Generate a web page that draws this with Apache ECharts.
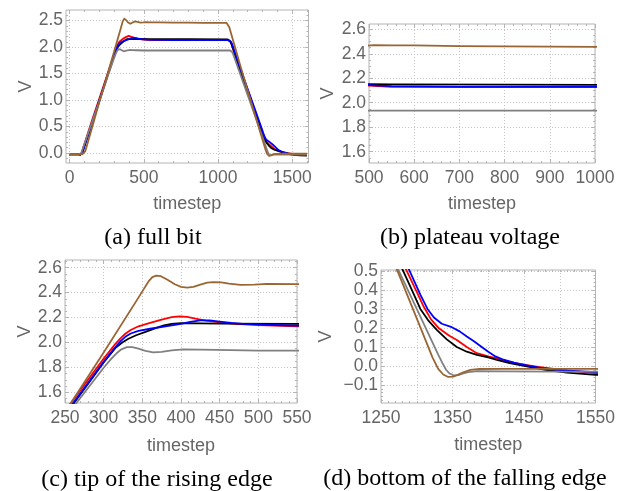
<!DOCTYPE html>
<html>
<head>
<meta charset="utf-8">
<script src="https://cdn.jsdelivr.net/npm/echarts@6/dist/echarts.min.js"></script>
<style>
  html, body { margin: 0; padding: 0; background: #fff; }
  #chart { width: 618px; height: 491px; }
</style>
</head>
<body>
<div id="chart"></div>
<script>
// 五条电压曲线 [timestep, V]
const redPts = [[0,-0.04],[64,-0.04],[70,-0.037],[76,-0.025],[82,0.0],[90,0.09],[150,0.61],[200,1.03],[256,1.5],[300,1.87],[314,1.98],[322,2.035],[328,2.07],[335,2.1],[345,2.13],[360,2.157],[375,2.183],[388,2.203],[398,2.21],[408,2.205],[420,2.19],[432,2.176],[445,2.165],[470,2.15],[500,2.14],[550,2.13],[700,2.13],[900,2.13],[1068,2.13],[1076,2.122],[1084,2.1],[1092,2.05],[1100,1.972],[1200,1.182],[1286,0.5],[1300,0.39],[1310,0.31],[1320,0.245],[1331,0.198],[1345,0.16],[1356,0.137],[1370,0.1],[1384,0.067],[1400,0.05],[1412,0.04],[1430,0.022],[1445,0.01],[1470,-0.005],[1500,-0.02],[1550,-0.038],[1600,-0.042]];
const blackPts = [[0,-0.04],[68,-0.04],[74,-0.037],[80,-0.025],[86,0.0],[94,0.075],[150,0.55],[200,0.98],[260,1.5],[300,1.84],[315,1.955],[324,2.0],[332,2.03],[342,2.058],[355,2.087],[368,2.117],[378,2.137],[388,2.15],[400,2.156],[450,2.152],[550,2.15],[800,2.148],[1066,2.145],[1074,2.138],[1082,2.11],[1090,2.06],[1100,1.985],[1150,1.545],[1200,1.145],[1250,0.745],[1281,0.5],[1295,0.385],[1305,0.3],[1316,0.24],[1328,0.19],[1342,0.14],[1356,0.1],[1370,0.075],[1384,0.058],[1400,0.045],[1412,0.032],[1430,0.015],[1450,0.0],[1480,-0.02],[1510,-0.035],[1550,-0.047],[1600,-0.05]];
const bluePts = [[0,-0.04],[66,-0.04],[72,-0.037],[78,-0.025],[84,0.0],[92,0.075],[150,0.57],[200,0.995],[259,1.5],[300,1.845],[314,1.955],[322,2.01],[328,2.045],[335,2.072],[345,2.093],[360,2.11],[380,2.13],[400,2.15],[412,2.165],[425,2.178],[437,2.177],[450,2.168],[465,2.157],[480,2.15],[520,2.14],[550,2.135],[700,2.13],[900,2.13],[1071,2.13],[1079,2.122],[1087,2.1],[1095,2.055],[1103,1.99],[1150,1.6],[1200,1.205],[1250,0.815],[1290,0.5],[1305,0.375],[1315,0.3],[1324,0.255],[1335,0.222],[1349,0.204],[1360,0.182],[1370,0.155],[1380,0.13],[1389,0.105],[1400,0.075],[1410,0.05],[1420,0.035],[1436,0.017],[1457,0.0],[1475,-0.012],[1510,-0.025],[1550,-0.033],[1600,-0.035]];
const grayPts = [[0,-0.04],[60,-0.04],[66,-0.037],[72,-0.025],[78,0.0],[86,0.065],[150,0.58],[200,0.98],[263,1.5],[300,1.797],[310,1.87],[317,1.915],[323,1.945],[330,1.962],[337,1.962],[345,1.95],[354,1.932],[364,1.92],[375,1.924],[388,1.936],[403,1.944],[425,1.943],[446,1.94],[500,1.935],[800,1.935],[1082,1.935],[1090,1.925],[1097,1.9],[1104,1.85],[1200,1.09],[1275,0.5],[1300,0.3],[1320,0.14],[1330,0.06],[1336,0.015],[1341,-0.02],[1346,-0.04],[1352,-0.05],[1358,-0.048],[1364,-0.04],[1372,-0.032],[1385,-0.027],[1420,-0.029],[1500,-0.03],[1600,-0.03]];
const brownPts = [[0,-0.02],[86,-0.02],[92,-0.017],[98,-0.005],[104,0.03],[112,0.1],[200,0.96],[252,1.46],[300,1.92],[345,2.36],[352,2.43],[358,2.49],[363,2.525],[368,2.537],[374,2.532],[382,2.505],[392,2.467],[400,2.446],[408,2.44],[416,2.446],[425,2.465],[434,2.48],[442,2.485],[452,2.482],[462,2.472],[477,2.462],[495,2.465],[511,2.47],[550,2.468],[600,2.468],[700,2.463],[800,2.46],[900,2.458],[1000,2.457],[1058,2.455],[1064,2.448],[1070,2.425],[1076,2.375],[1150,1.65],[1200,1.18],[1273,0.5],[1300,0.25],[1322,0.045],[1330,-0.015],[1337,-0.045],[1344,-0.058],[1351,-0.056],[1358,-0.046],[1366,-0.032],[1375,-0.021],[1388,-0.016],[1420,-0.015],[1500,-0.015],[1600,-0.015]];

// 刻度标签
const xLabelsA = [0, 500, 1000, 1500];
const yLabelsA = [0, 0.5, 1.0, 1.5, 2.0, 2.5];
const xLabelsB = [500, 600, 700, 800, 900, 1000];
const yLabelsB = [1.6, 1.8, 2.0, 2.2, 2.4, 2.6];
const xLabelsC = [250, 300, 350, 400, 450, 500, 550];
const yLabelsC = [1.6, 1.8, 2.0, 2.2, 2.4, 2.6];
const xLabelsD = [1250, 1350, 1450, 1550];
const xGridD = [1300, 1350, 1400, 1450, 1500];
const yLabelsD = [-0.1, 0.0, 0.1, 0.2, 0.3, 0.4, 0.5];

const captions = ['(a) full bit', '(b) plateau voltage', '(c) tip of the rising edge', '(d) bottom of the falling edge'];

// 样式常量
const FRAME = '#b4b4b4';
const LABEL = '#666666';
const GRIDC = '#c4c4c4';
const SANS = '"Liberation Sans", Arial, sans-serif';

function steps(a, b, s) {
    let out = [];
    let n = Math.round((b - a) / s);
    for (let i = 0; i <= n; i++) {
        out.push(+(a + i * s).toFixed(4));
    }
    return out;
}

function fmt(dec) {
    return function (v) {
        let s = Number(v).toFixed(dec);
        if (s.charAt(0) === '-') {
            s = '\u2212' + s.slice(1);
        }
        return s;
    };
}

// 四个子图
const panels = [
    {
        grid: {left: 66, top: 10, width: 242.5, height: 153},
        xRange: [-25, 1610], yRange: [-0.19, 2.70],
        xLabels: xLabelsA, xGrid: xLabelsA, xMinor: steps(0, 1600, 100), xDec: 0,
        yLabels: yLabelsA, yGrid: yLabelsA, yMinor: steps(-0.1, 2.6, 0.1), yDec: 1,
        xNameGap: 32, yNameGap: 31,
        caption: {x: 153, y: 238}
    },
    {
        grid: {left: 369, top: 24, width: 226, height: 139},
        xRange: [500, 1000], yRange: [1.508, 2.643],
        xLabels: xLabelsB, xGrid: xLabelsB, xMinor: steps(500, 1000, 20), xDec: 0,
        yLabels: yLabelsB, yGrid: yLabelsB, yMinor: steps(1.55, 2.6, 0.05), yDec: 1,
        xNameGap: 32, yNameGap: 32,
        caption: {x: 470, y: 238}
    },
    {
        grid: {left: 65, top: 260, width: 232, height: 143},
        xRange: [250, 550], yRange: [1.514, 2.662],
        xLabels: xLabelsC, xGrid: xLabelsC, xMinor: steps(250, 550, 10), xDec: 0,
        yLabels: yLabelsC, yGrid: yLabelsC, yMinor: steps(1.55, 2.65, 0.05), yDec: 1,
        xNameGap: 34, yNameGap: 31,
        caption: {x: 157, y: 480}
    },
    {
        grid: {left: 381, top: 270, width: 214.5, height: 133},
        xRange: [1250, 1550], yRange: [-0.195, 0.505],
        xLabels: xLabelsD, xGrid: xGridD, xMinor: steps(1250, 1550, 10), xDec: 0,
        yLabels: yLabelsD, yGrid: yLabelsD, yMinor: steps(-0.18, 0.5, 0.02), yDec: 1,
        xNameGap: 33, yNameGap: 46,
        caption: {x: 465, y: 479}
    }
];

const AXES_PER = 5;

function tickStyle(vals, len) {
    return {show: true, inside: true, length: len, customValues: vals, lineStyle: {color: FRAME, width: 1}};
}

function buildAxes(dim, gi, p) {
    let isX = dim === 'x';
    let range = isX ? p.xRange : p.yRange;
    let labels = isX ? p.xLabels : p.yLabels;
    let gridVals = isX ? p.xGrid : p.yGrid;
    let minor = isX ? p.xMinor : p.yMinor;
    let posA = isX ? 'bottom' : 'left';
    let posB = isX ? 'top' : 'right';
    let base = {type: 'value', gridIndex: gi, min: range[0], max: range[1]};
    let noLine = {show: false, onZero: false};
    let plain = {axisLabel: {show: false}, splitLine: {show: false}};

    let main = Object.assign({}, base, {
        position: posA,
        axisLine: noLine,
        axisTick: tickStyle(labels, 4),
        axisLabel: {
            customValues: labels,
            formatter: fmt(isX ? p.xDec : p.yDec),
            color: LABEL, fontFamily: SANS, fontSize: 17.5,
            margin: isX ? 6 : 3
        },
        splitLine: {show: false},
        name: isX ? 'timestep' : 'V',
        nameLocation: 'middle',
        nameGap: isX ? p.xNameGap : p.yNameGap,
        nameRotate: isX ? 0 : 90,
        nameTextStyle: {color: LABEL, fontFamily: SANS, fontSize: 18}
    });
    let gridAxis = Object.assign({}, base, plain, {
        position: posA,
        axisLine: noLine,
        axisTick: {show: false, customValues: gridVals},
        splitLine: {show: true, lineStyle: {color: GRIDC, type: [1, 2], width: 1}}
    });
    let minorA = Object.assign({}, base, plain, {position: posA, axisLine: noLine, axisTick: tickStyle(minor, 2)});
    let majorB = Object.assign({}, base, plain, {position: posB, axisLine: noLine, axisTick: tickStyle(labels, 4)});
    let minorB = Object.assign({}, base, plain, {position: posB, axisLine: noLine, axisTick: tickStyle(minor, 2)});
    return [main, gridAxis, minorA, majorB, minorB];
}

const seriesDefs = [
    {name: 'red', data: redPts, color: '#ff0000'},
    {name: 'black', data: blackPts, color: '#000000'},
    {name: 'blue', data: bluePts, color: '#0000ff'},
    {name: 'gray', data: grayPts, color: '#808080'},
    {name: 'brown', data: brownPts, color: '#996633'}
];

let grids = [];
let xAxes = [];
let yAxes = [];
let series = [];
let graphics = [];

panels.forEach(function (p, gi) {
    grids.push(Object.assign({show: true, borderColor: FRAME, borderWidth: 1, backgroundColor: 'transparent'}, p.grid));
    xAxes = xAxes.concat(buildAxes('x', gi, p));
    yAxes = yAxes.concat(buildAxes('y', gi, p));
    seriesDefs.forEach(function (s) {
        series.push({
            type: 'line',
            name: s.name,
            xAxisIndex: gi * AXES_PER,
            yAxisIndex: gi * AXES_PER,
            data: s.data,
            showSymbol: false,
            smooth: false,
            clip: true,
            lineStyle: {color: s.color, width: 1.8, join: 'round'},
            itemStyle: {color: s.color},
            silent: true
        });
    });
    graphics.push({
        type: 'text',
        x: p.caption.x,
        y: p.caption.y,
        style: {
            text: captions[gi],
            font: '24px "Liberation Serif", "Times New Roman", serif',
            fill: '#000',
            textAlign: 'center',
            textVerticalAlign: 'middle'
        }
    });
});

const chart = echarts.init(document.getElementById('chart'));
chart.setOption({
    animation: false,
    backgroundColor: '#ffffff',
    grid: grids,
    xAxis: xAxes,
    yAxis: yAxes,
    series: series,
    graphic: graphics
});
</script>
</body>
</html>
